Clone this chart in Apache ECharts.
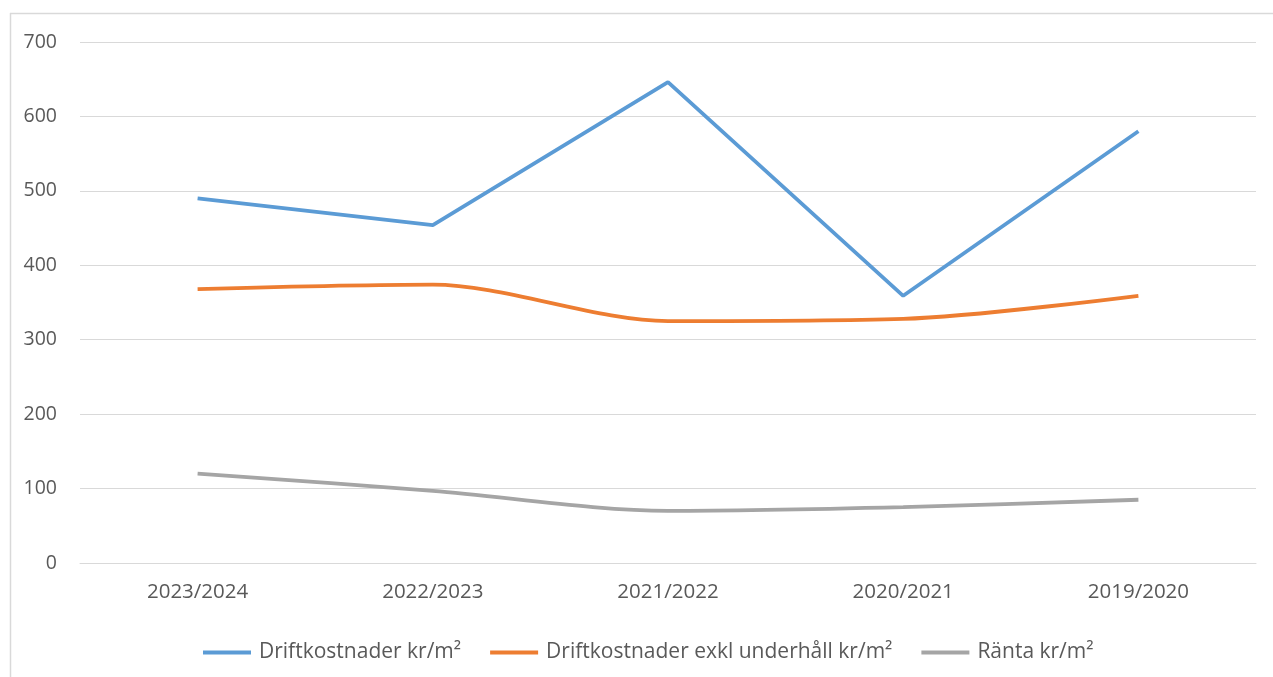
<!DOCTYPE html>
<html><head><meta charset="utf-8">
<script src="https://cdn.jsdelivr.net/npm/echarts@6/dist/echarts.min.js"></script>
<style>html,body{margin:0;padding:0;background:#fff}#c{width:1273px;height:677px}</style>
</head><body><div id="c"></div>
<script>
const categories = ['2023/2024','2022/2023','2021/2022','2020/2021','2019/2020'];
const drift = [490, 454, 646, 359, 580];
const driftExkl = [368, 374, 325, 328, 359];
const ranta = [120, 97, 70, 75, 85];
const seriesNames = ['Driftkostnader kr/m²','Driftkostnader exkl underhåll kr/m²','Ränta kr/m²'];
const colors = ['#5b9bd5','#ed7d31','#a5a5a5'];

const chart = echarts.init(document.getElementById('c'));
const font = "'Open Sans', 'Noto Sans', sans-serif";
chart.setOption({
  animation:false,
  textStyle:{fontFamily:font},
  graphic:[
    {type:'line',shape:{x1:10,y1:13.5,x2:1273,y2:13.5},style:{stroke:'#d9d9d9',lineWidth:1.5}},
    {type:'line',shape:{x1:10.5,y1:13,x2:10.5,y2:677},style:{stroke:'#d9d9d9',lineWidth:1.5}}
  ],
  grid:{left:80,right:17,top:42,bottom:114,containLabel:false},
  legend:{
    top:637,left:198,itemWidth:48,itemHeight:4,itemGap:29,
    icon:'rect',
    textStyle:{color:'#595959',fontSize:21,fontFamily:font,padding:[0,0,0,3]},
    data:seriesNames
  },
  xAxis:{type:'category',data:categories,boundaryGap:true,
    axisLine:{lineStyle:{color:'#d9d9d9',width:1}},axisTick:{show:false},
    axisLabel:{color:'#595959',fontSize:20.5,margin:19}},
  yAxis:{type:'value',min:0,max:700,interval:100,
    axisLine:{show:false},axisTick:{show:false},
    splitLine:{lineStyle:{color:'#d9d9d9',width:1}},
    axisLabel:{color:'#595959',fontSize:19.5,margin:23}},
  series:[
    {name:seriesNames[0],type:'line',data:drift,color:colors[0],symbol:'none',lineStyle:{width:3.8,color:colors[0]}},
    {name:seriesNames[1],type:'line',data:driftExkl,color:colors[1],symbol:'none',smooth:0.3,lineStyle:{width:3.8,color:colors[1]}},
    {name:seriesNames[2],type:'line',data:ranta,color:colors[2],symbol:'none',smooth:0.3,lineStyle:{width:3.8,color:colors[2]}}
  ]
});
</script></body></html>
